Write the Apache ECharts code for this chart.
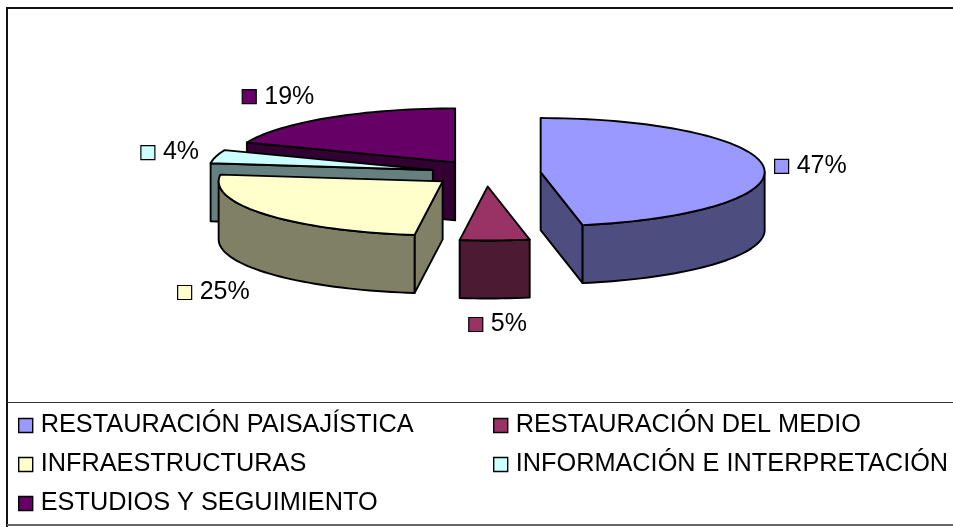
<!DOCTYPE html>
<html>
<head>
<meta charset="utf-8">
<title>Pie</title>
<script src="https://cdn.jsdelivr.net/npm/echarts@6/dist/echarts.min.js"></script>
<style type="text/css">
    html, body { margin: 0; padding: 0; background: #fff; }
    #chart { width: 953px; height: 527px; }
</style>
</head>
<body>
<div id="chart"></div>
<script type="text/javascript">
var categories = ['RESTAURACIÓN PAISAJÍSTICA', 'RESTAURACIÓN DEL MEDIO', 'INFRAESTRUCTURAS', 'INFORMACIÓN E INTERPRETACIÓN', 'ESTUDIOS Y SEGUIMIENTO'];
var values = [47, 5, 25, 4, 19];
var topColors = ['#9999ff', '#993366', '#ffffcc', '#ccffff', '#660066'];
var sideColors = ['#4d4d80', '#4d1a33', '#808066', '#668080', '#330033'];
// painted back to front
var paintOrder = [4, 3, 0, 1, 2];
// label key position relative to the rim point in the middle of each slice
var labelShift = [[18, -0.5], [-19, 84], [-81, 78], [-68, -4], [-80, -21]];

var pie = {cx: 486, cy: 173.3, rx: 224, ry: 54, depth: 58, explode: 0.245};
var total = values.reduce(function (a, b) { return a + b; }, 0);

function rimPoint(c, deg, dy) {
    var r = deg * Math.PI / 180;
    return [c[0] + pie.rx * Math.sin(r), c[1] - pie.ry * Math.cos(r) + (dy || 0)];
}

function arcPoints(c, from, to, dy) {
    var pts = [];
    var n = Math.max(2, Math.ceil(Math.abs(to - from) / 2));
    for (var i = 0; i <= n; i++) {
        pts.push(rimPoint(c, from + (to - from) * i / n, dy));
    }
    return pts;
}

function face(points, color) {
    return {
        type: 'polygon',
        shape: {points: points},
        style: {fill: color, stroke: '#000', lineWidth: 1.9, lineJoin: 'round'}
    };
}

function renderSlice(params, api) {
    var idx = api.value(0);
    var before = 0;
    for (var i = 0; i < idx; i++) before += values[i];
    var a1 = before / total * 360;
    var a2 = (before + api.value(1)) / total * 360;
    var mid = (a1 + a2) / 2;
    var off = rimPoint([0, 0], mid);
    var c = [pie.cx + off[0] * pie.explode, pie.cy + off[1] * pie.explode];
    var c2 = [c[0], c[1] + pie.depth];
    var side = sideColors[idx];
    var children = [];

    // straight cut faces, only the ones turned to the viewer
    if (Math.sin(a2 * Math.PI / 180) > 0.01) {
        children.push(face([c, rimPoint(c, a2), rimPoint(c2, a2), c2], side));
    }
    if (Math.sin(a1 * Math.PI / 180) < -0.01) {
        children.push(face([c, rimPoint(c, a1), rimPoint(c2, a1), c2], side));
    }
    // curved wall
    var w1 = Math.max(a1, 90), w2 = Math.min(a2, 270);
    if (w2 > w1) {
        children.push(face(arcPoints(c, w1, w2).concat(arcPoints(c2, w2, w1)), side));
    }
    // top
    children.push(face([c].concat(arcPoints(c, a1, a2)), topColors[idx]));

    // data label with its key
    var rim = rimPoint(c, mid);
    var lx = rim[0] + labelShift[idx][0], ly = rim[1] + labelShift[idx][1];
    children.push({
        type: 'rect',
        shape: {x: lx - 7, y: ly - 7, width: 14, height: 14},
        style: {fill: topColors[idx], stroke: '#000', lineWidth: 1.2}
    });
    children.push({
        type: 'text',
        style: {
            x: lx + 15, y: ly, text: api.value(1) + '%', fill: '#000',
            font: '25px "Liberation Sans"', verticalAlign: 'middle', align: 'left'
        }
    });
    return {type: 'group', children: children};
}

var sliceSeries = paintOrder.map(function (i) {
    return {
        type: 'custom',
        name: categories[i],
        coordinateSystem: 'none',
        silent: true,
        animation: false,
        itemStyle: {color: topColors[i]},
        renderItem: renderSlice,
        encode: {},
        data: [[i, values[i]]]
    };
});

function legendBlock(names, left, top) {
    return {
        orient: 'vertical',
        left: left,
        top: top,
        itemGap: 6,
        itemWidth: 14,
        itemHeight: 14,
        padding: 0,
        selectedMode: false,
        icon: 'rect',
        itemStyle: {borderColor: '#000', borderWidth: 1.4},
        textStyle: {fontFamily: 'Liberation Sans', fontSize: 25.3, lineHeight: 25, color: '#000', padding: [0, 0, 8, 3]},
        data: names
    };
}

var chart = echarts.init(document.getElementById('chart'), null, {renderer: 'canvas'});
chart.setOption({
    animation: false,
    backgroundColor: '#fff',
    legend: [
        legendBlock([categories[0], categories[2], categories[4]], 18, 409),
        legendBlock([categories[1], categories[3]], 493, 409)
    ],
    graphic: [
        {type: 'line', shape: {x1: 7, y1: 8, x2: 953, y2: 8}, style: {stroke: '#111', lineWidth: 2}},
        {type: 'line', shape: {x1: 7, y1: 7, x2: 7, y2: 527}, style: {stroke: '#111', lineWidth: 2}},
        {type: 'line', shape: {x1: 7, y1: 402.5, x2: 953, y2: 402.5}, style: {stroke: '#333', lineWidth: 1}},
        {type: 'line', shape: {x1: 7, y1: 525, x2: 953, y2: 525}, style: {stroke: '#666', lineWidth: 2}}
    ],
    series: sliceSeries
});
</script>
</body>
</html>
